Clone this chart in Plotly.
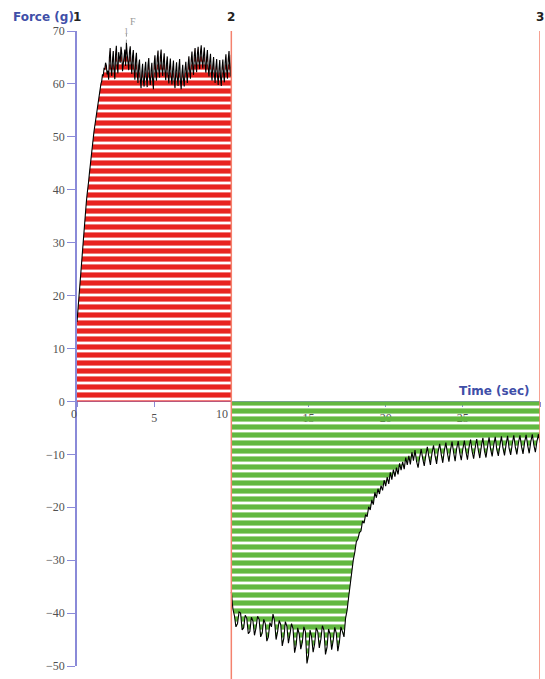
import plotly.graph_objects as go

# Segment 1: pull phase, 0-10 s at 0.05 s steps
t1 = [round(i * 0.05, 2) for i in range(201)]
f1 = [15, 17, 19, 21, 23, 25, 27, 29, 31, 32.5,
      34, 36, 37.5, 39, 40, 41.5, 43, 44.5, 46, 47.2,
      48.5, 49.8, 51, 52, 53, 54.2, 55.5, 56.3, 57, 58.2,
      59, 60, 60.5, 61.8, 61.5, 62.9, 62.8, 64, 63.5, 61.8,
      62.5,
      60.8, 65, 66.8, 63, 61.5, 64.5, 66.2, 62.8, 60.9, 65.5,
      67.2, 63.5, 62, 66, 64.8, 64, 67, 65.8, 62.4, 63.6,
      65.2, 66.5, 63.4, 67.8, 65.8, 64.5, 62.6, 66, 67.1, 63.8,
      61.9, 65.2, 66.4, 62.5, 60.8, 64.5, 65.9, 62, 60.2, 63.5,
      64.6, 60.8, 59.2, 62.2, 63.8, 60.5, 59.5, 62.8, 64.2, 61,
      59.4, 63.5, 64.9, 61.2, 59.8, 62.5, 64, 60.7, 59, 63.8,
      65.4, 62, 60.6, 64.8, 66.3, 62.5, 61.2, 65, 66.5, 63,
      61.5, 64.2, 65.8, 62.3, 60.7, 63.8, 65.2, 61.8, 60.1, 63.2,
      64.8, 61.5, 59.9, 62.8, 64.4, 60.6, 59.2, 62.4, 64.1, 61,
      59.6, 63, 64.7, 60.5, 59, 62, 63.6, 60.8, 59.5, 62.7,
      64.2, 61.8, 60.2, 63.6, 65.2, 62.4, 61, 64.5, 66.1, 63.2,
      61.7, 65.3, 66.8, 63.8, 62.2, 65.6, 67, 64.2, 62.8, 66,
      67.3, 64.5, 62.9, 65.4, 66.9, 63.6, 62.1, 65, 66.4, 63,
      61.4, 64.2, 65.7, 62.3, 60.6, 63.5, 65.1, 61.8, 60.2, 63.2,
      64.7, 61.6, 59.8, 62.8, 64.5, 61.2, 59.6, 63, 64.6, 61.8,
      60.3, 64, 65.6, 62.5, 61, 64.6, 66.2, 63, 61.4, 65.5]

# Segment 2: push phase, 10-30 s at 0.1 s steps
t2 = [round(10 + i * 0.1, 1) for i in range(201)]
f2 = [-36,
      -39.2, -40.5, -42.6, -42, -39.8, -40, -43.2, -42.8, -40.4, -41,
      -43.9, -43.5, -40.8, -41.5, -44.2, -42.8, -40.6, -41.2, -44.5, -43.8,
      -41.2, -42, -45.3, -44.5, -41.8, -42.6, -40.2, -41.5, -45, -43.5,
      -41.4, -42.2, -46.2, -44.8, -41.6, -42.5, -45.7, -44, -42, -43,
      -47.5, -46, -42.8, -44, -46.8, -45.5, -42.6, -43.5, -49.5, -48,
      -43.2, -44.5, -47.4, -45.8, -42.8, -43.5, -46.6, -45, -42.4, -43.2,
      -47.8, -46.5, -43, -44, -46.9, -45.2, -42.7, -43.8, -47.2, -45.5,
      -42.6, -43.5, -44.5, -41, -39.5, -37, -34.5, -32, -30, -28.5,
      -26.5, -26, -24.8, -24.5, -22.6, -23, -21.4, -21.8, -19.9, -20.5,
      -18.6, -19.5, -17.2, -18.2, -16.5, -17.5, -15.9, -16.8, -14.9, -16,
      -14.3, -15.6, -13.4, -14.8, -12.9, -14.2, -12.5, -13.8, -11.7, -13,
      -11.4, -12.8, -10.6, -12, -10.3, -11.9, -9.6, -11.2, -9.2, -11.3,
      -12.5, -10.6, -9, -10.8, -12.2, -10.2, -8.6, -10.5, -12, -9.8,
      -8.3, -10.3, -11.8, -9.5, -8, -10, -11.6, -9.3, -7.8, -9.8,
      -11.4, -9.2, -7.6, -9.6, -11.3, -8.9, -7.5, -9.7, -11.1, -9,
      -7.4, -9.5, -11, -8.7, -7.2, -9.4, -10.8, -8.8, -7.1, -9.2,
      -10.7, -8.5, -6.9, -9.3, -10.6, -8.6, -6.8, -9, -10.4, -8.3,
      -6.7, -9.1, -10.3, -8.4, -6.6, -8.8, -10.2, -8.2, -6.5, -8.9,
      -10.1, -8.1, -6.4, -8.6, -10, -7.9, -6.4, -8.5, -9.9, -7.8,
      -6.3, -8.3, -9.8, -7.7, -6.2, -8.2, -9.6, -7.6, -6.2, -7.8]

x_ticks = [0, 5, 10, 15, 20, 25, 30]
y_ticks = [-50, -40, -30, -20, -10, 0, 10, 20, 30, 40, 50, 60, 70]
markers = [("1", 0), ("2", 10), ("3", 30)]
side_labels = [0, 10]  # tick labels drawn just left of a boundary line

RED = "#e8231f"
GREEN = "#62b840"
BLUE = "#3f4fa8"
AXIS = "#8a8ad8"
TICKFONT = dict(family="Liberation Serif", size=12, color="#505050")
CLEAR = "rgba(255,255,255,0)"

fig = go.Figure()
fig.add_trace(go.Scatter(
    x=t1, y=f1, mode="lines", line=dict(width=0), fill="tozeroy",
    fillcolor=RED,
    fillpattern=dict(shape="-", fgcolor=RED, bgcolor=CLEAR, fgopacity=1, size=8, solidity=0.65),
    hoverinfo="skip", showlegend=False))
fig.add_trace(go.Scatter(
    x=t2, y=f2, mode="lines", line=dict(width=0), fill="tozeroy",
    fillcolor=GREEN,
    fillpattern=dict(shape="-", fgcolor=GREEN, bgcolor=CLEAR, fgopacity=1, size=8, solidity=0.65),
    hoverinfo="skip", showlegend=False))
fig.add_trace(go.Scatter(x=t1, y=f1, mode="lines",
                         line=dict(color="black", width=1.1), showlegend=False))
fig.add_trace(go.Scatter(x=t2, y=f2, mode="lines",
                         line=dict(color="black", width=1.1), showlegend=False))

for _, xv in markers[1:]:
    fig.add_shape(type="line", xref="x", yref="paper", x0=xv, x1=xv, y0=-0.03, y1=1,
                  line=dict(color="#f4826e", width=1.5), layer="above")

for lab, xv in markers:
    fig.add_annotation(x=xv, y=1, xref="x", yref="paper", yshift=14, text="<b>%s</b>" % lab,
                       showarrow=False, xanchor="center", yanchor="middle",
                       font=dict(family="DejaVu Sans", size=12, color="#222222"))

for v in side_labels:
    fig.add_annotation(x=v, y=0, xref="x", yref="y", xshift=2 if v == 0 else -1, yshift=-13,
                       text=str(v), showarrow=False, xanchor="right", yanchor="middle",
                       font=TICKFONT)

fig.add_annotation(x=0, y=1, xref="paper", yref="paper", xshift=-66, yshift=14,
                   text="<b>Force (g)</b>", showarrow=False, xanchor="left", yanchor="middle",
                   font=dict(family="DejaVu Sans", size=12, color=BLUE))
fig.add_annotation(x=29.4, y=0, xref="x", yref="y", yshift=10,
                   text="<b>Time (sec)</b>", showarrow=False, xanchor="right", yanchor="middle",
                   font=dict(family="DejaVu Sans", size=12, color=BLUE))
fig.add_annotation(x=3.6, y=1, xref="x", yref="paper", yshift=17, text="F", showarrow=False,
                   font=dict(family="Liberation Serif", size=10, color="#999999"))
fig.add_annotation(x=3.2, y=1, xref="x", yref="paper", yshift=7, text="1", showarrow=False,
                   font=dict(family="Liberation Serif", size=9, color="#999999"))
fig.add_shape(type="line", xref="x", yref="y", x0=3.2, x1=3.2, y0=67.8, y1=70,
              line=dict(color="#999999", width=1, dash="dot"))

fig.update_layout(
    width=545, height=679,
    margin=dict(l=77, r=5, t=31, b=13),
    paper_bgcolor="white", plot_bgcolor="white",
    xaxis=dict(range=[0, 30], tickvals=x_ticks,
               ticktext=[("" if v in side_labels else str(v)) for v in x_ticks],
               showgrid=False, zeroline=False, showline=True, linecolor=AXIS,
               ticks="outside", ticklen=5, tickcolor=AXIS, tickfont=TICKFONT,
               anchor="free", position=50 / 120, layer="below traces", automargin=False),
    yaxis=dict(range=[-50, 70], tickvals=y_ticks, showgrid=False, zeroline=False,
               showline=True, linecolor=AXIS, linewidth=1.5, ticks="outside", ticklen=8,
               tickcolor=AXIS, tickfont=TICKFONT, automargin=False),
)

fig.write_html("out.html")
